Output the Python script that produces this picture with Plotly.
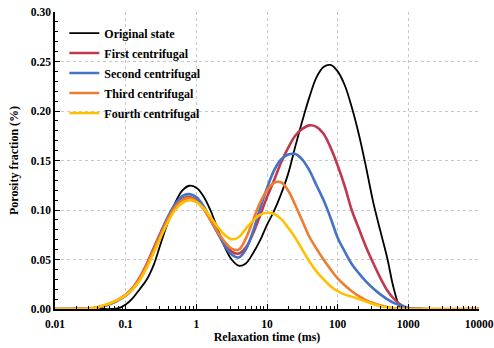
import plotly.graph_objects as go

# Relaxation time T2 (ms)
t2_ms = [0.01, 0.0251, 0.0316, 0.0398, 0.0501, 0.0631, 0.0794, 0.1, 0.126, 0.158,
         0.2, 0.251, 0.316, 0.398, 0.501, 0.631, 0.794, 1, 1.26, 1.58,
         2, 2.51, 3.16, 3.98, 5.01, 6.31, 7.94, 10, 12.6, 15.8,
         20, 25.1, 31.6, 39.8, 50.1, 63.1, 79.4, 100, 126, 158,
         200, 251, 316, 398, 501, 631, 794, 1000, 1585, 10000]

original_state = [0, 0, 0, 0, 0, 0, 0.0008, 0.0045, 0.011, 0.020,
                  0.030, 0.045, 0.067, 0.088, 0.107, 0.1195, 0.1245, 0.1225, 0.114, 0.100,
                  0.081, 0.063, 0.050, 0.0437, 0.046, 0.056, 0.069, 0.085, 0.099, 0.116,
                  0.137, 0.164, 0.190, 0.214, 0.234, 0.2445, 0.2465, 0.240, 0.226, 0.204,
                  0.176, 0.144, 0.109, 0.080, 0.052, 0.019, 0, 0, 0, 0]

first_centrifugal = [0, 0.0002, 0.0006, 0.0016, 0.0035, 0.0062, 0.0098, 0.0145, 0.0215, 0.032,
                     0.046, 0.062, 0.078, 0.093, 0.105, 0.111, 0.113, 0.110, 0.102, 0.090,
                     0.077, 0.066, 0.058, 0.056, 0.062, 0.076, 0.094, 0.113, 0.130, 0.148,
                     0.163, 0.175, 0.182, 0.1855, 0.184, 0.177, 0.163, 0.145, 0.124, 0.100,
                     0.081, 0.063, 0.047, 0.032, 0.019, 0.010, 0.004, 0.001, 0, 0]

second_centrifugal = [0, 0.0002, 0.0005, 0.0013, 0.003, 0.0055, 0.009, 0.0135, 0.020, 0.030,
                      0.044, 0.060, 0.077, 0.093, 0.106, 0.114, 0.116, 0.113, 0.104, 0.091,
                      0.077, 0.064, 0.055, 0.052, 0.060, 0.078, 0.101, 0.122, 0.140, 0.151,
                      0.156, 0.1565, 0.151, 0.140, 0.125, 0.110, 0.092, 0.072, 0.058, 0.0455,
                      0.036, 0.028, 0.021, 0.015, 0.010, 0.006, 0.0035, 0.001, 0, 0]

third_centrifugal = [0, 0.0002, 0.0006, 0.0016, 0.0035, 0.006, 0.0095, 0.014, 0.021, 0.031,
                     0.045, 0.060, 0.076, 0.091, 0.103, 0.110, 0.112, 0.109, 0.101, 0.090,
                     0.078, 0.068, 0.061, 0.060, 0.071, 0.089, 0.107, 0.120, 0.1275, 0.128,
                     0.1195, 0.105, 0.089, 0.073, 0.061, 0.050, 0.040, 0.031, 0.024, 0.018,
                     0.013, 0.009, 0.006, 0.0038, 0.002, 0.0008, 0.0002, 0, 0, 0]

fourth_centrifugal = [0, 0.0003, 0.0007, 0.0018, 0.004, 0.0065, 0.0097, 0.014, 0.020, 0.029,
                      0.042, 0.057, 0.073, 0.088, 0.100, 0.107, 0.110, 0.108, 0.102, 0.093,
                      0.083, 0.075, 0.0705, 0.0725, 0.081, 0.089, 0.095, 0.0972, 0.096, 0.091,
                      0.082, 0.072, 0.060, 0.048, 0.038, 0.030, 0.023, 0.018, 0.0145, 0.0125,
                      0.010, 0.0075, 0.005, 0.003, 0.0017, 0.0008, 0.0002, 0, 0, 0]

series_names = ["Original state", "First centrifugal", "Second centrifugal",
                "Third centrifugal", "Fourth centrifugal"]
series_values = [original_state, first_centrifugal, second_centrifugal,
                 third_centrifugal, fourth_centrifugal]
series_colors = ["#000000", "#C0394E", "#4472C4", "#ED7D31", "#FFC000"]
series_widths = [1.8, 2.6, 2.6, 2.6, 2.6]

x_tick_vals = [0.01, 0.1, 1, 10, 100, 1000, 10000]
x_tick_text = ["0.01", "0.1", "1", "10", "100", "1000", "10000"]
x_minor_vals = [m * 10 ** e for e in range(-2, 4) for m in range(2, 10)]

FONT = "Liberation Serif, Times New Roman, serif"

fig = go.Figure()
for i, (name, vals, col, w) in enumerate(zip(series_names, series_values, series_colors, series_widths)):
    fig.add_trace(go.Scatter(x=t2_ms, y=vals, mode="lines", name=name, legendgroup=f"g{i}",
                             line=dict(color=col, width=w, shape="spline", smoothing=1.0)))

fig.update_layout(
    width=494, height=348,
    margin=dict(l=55, r=15, t=12, b=39, autoexpand=False),
    paper_bgcolor="white", plot_bgcolor="white",
    font=dict(family=FONT, color="black", size=12),
    legend=dict(x=0.022, y=0.978, xanchor="left", yanchor="top",
                bgcolor="rgba(0,0,0,0)", font=dict(family=FONT, size=12, weight="bold"),
                itemwidth=30, tracegroupgap=1),
    showlegend=True,
)
fig.update_xaxes(
    type="log", range=[-2, 4], automargin=False,
    tickmode="array", tickvals=x_tick_vals, ticktext=x_tick_text,
    ticks="inside", ticklen=5, tickwidth=1, tickcolor="black",
    showline=True, linecolor="black", linewidth=1.5, mirror=False,
    showgrid=True, gridcolor="#c8c8c8", griddash="dot", gridwidth=1,
    zeroline=False, ticklabelstandoff=3, ticklabeloverflow="allow",
    tickfont=dict(family=FONT, size=11.5, weight="bold"),
    minor=dict(tickmode="array", tickvals=x_minor_vals, ticks="inside", ticklen=3,
               tickcolor="black", showgrid=False),
    title=dict(text="<b>Relaxation time (ms)</b>", font=dict(family=FONT, size=12), standoff=2),
)
fig.update_yaxes(
    range=[0, 0.30], dtick=0.05, tick0=0, tickformat=".2f", automargin=False,
    ticks="inside", ticklen=5, tickwidth=1, tickcolor="black",
    showline=True, linecolor="black", linewidth=1.5, mirror=False,
    showgrid=True, gridcolor="#c8c8c8", griddash="dot", gridwidth=1,
    zeroline=False, ticklabeloverflow="allow",
    tickfont=dict(family=FONT, size=11.5, weight="bold"),
    minor=dict(dtick=0.01, ticks="inside", ticklen=3, tickcolor="black", showgrid=False),
    title=dict(text="<b>Porosity fraction (%)</b>", font=dict(family=FONT, size=12), standoff=10),
)

fig.write_html(
    "out.html",
    config={"displayModeBar": False},
    post_script="document.body.style.margin='0';document.body.style.overflow='hidden';",
)
